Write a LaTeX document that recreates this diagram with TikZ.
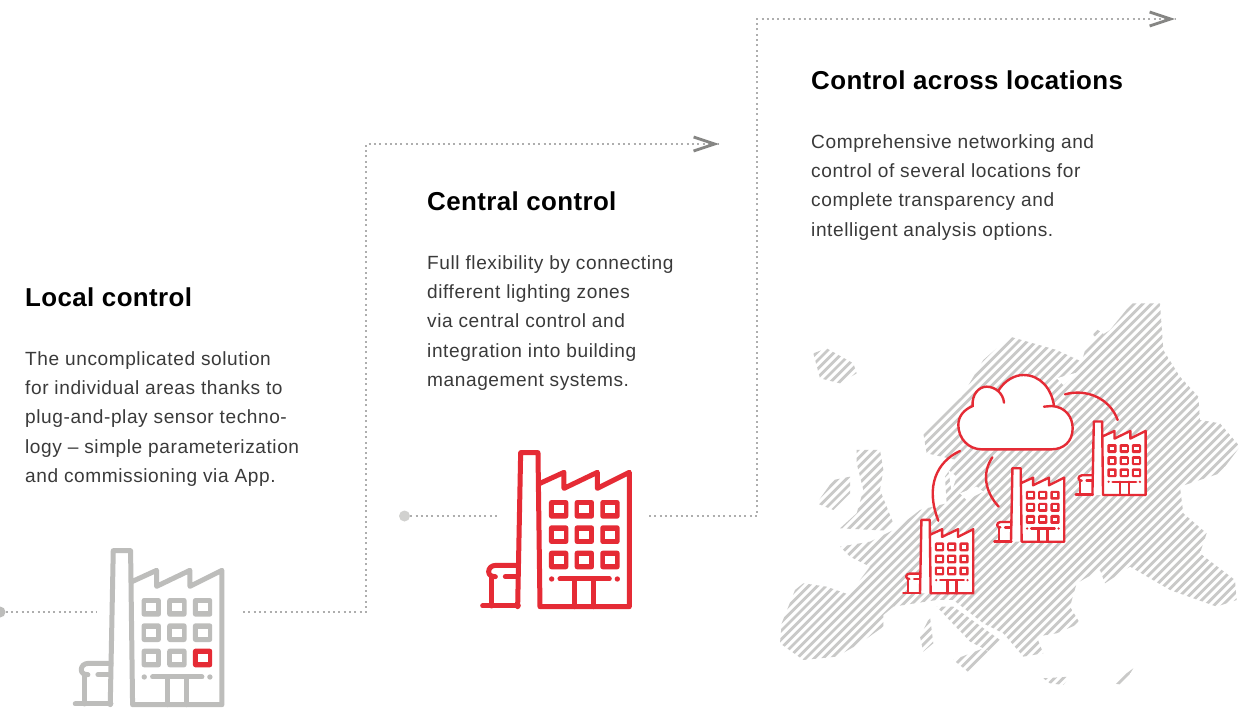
\documentclass[tikz,border=0pt]{standalone}
\usepackage{fontspec}
\usetikzlibrary{arrows.meta}
\setmainfont{Liberation Sans}
\newfontfamily\headf[LetterSpace=1.5]{Liberation Sans}
\newfontfamily\bodyf[LetterSpace=3]{Liberation Sans}
\definecolor{fred}{HTML}{E52B35}
\definecolor{fgrey}{HTML}{BDBDBB}
\definecolor{dotgrey}{HTML}{AEAEAE}
\definecolor{tipgrey}{HTML}{868684}
\definecolor{hatchgrey}{HTML}{C9C9C8}
\definecolor{bodytext}{HTML}{3A3A3A}
\tikzset{
  dotline/.style={draw=dotgrey,line width=2.4pt,dash pattern=on 2pt off 3.3pt},
  endtip/.style={-{Straight Barb[length=21pt,width=14pt,line width=2.8pt,color=tipgrey]},draw=tipgrey,line width=0.5pt},
  startdot/.style={circle,fill=#1,inner sep=0pt,minimum size=11pt},
  headtext/.style={anchor=base west,inner sep=0pt,font=\headf\bfseries\fontsize{25.9}{29}\selectfont,text=black},
  bodytxt/.style={anchor=north west,inner sep=0pt,align=left,text=bodytext,font=\bodyf\fontsize{19.1}{29.3}\selectfont},
  arcline/.style={draw=fred,line width=2.4pt,line cap=round}
}
% #1 x, #2 y, #3 scale, #4 colour, #5 lower right window colour
\newcommand{\factoryicon}[5]{%
\begin{scope}[shift={(#1,#2)},x=#3*0.3333pt,y=-#3*0.3333pt,line width=#3*5pt,draw=#4,line cap=round,line join=round]
  \fill[white] (383,500) -- (392,38) -- (444,38) -- (450,130) -- (522,97) -- (522,145) -- (622,97) -- (622,145) -- (718,97) -- (718,500) -- cycle;
  \fill[white] (306,498) -- (306,410) -- (296,395) -- (315,376) -- (385,376) -- (385,498) -- cycle;
  \draw (383,500) -- (392,38) -- (444,38) -- (450,500) -- (718,500) -- (718,97) -- (622,145) -- (622,97) -- (522,145) -- (522,97) -- (450,130);
  \draw (278,498) -- (385,498);
  \draw (306,498) -- (306,410);
  \draw (385,376) -- (318,376) .. controls (304,376) and (296,385) .. (296,395) .. controls (296,405) and (304,410) .. (316,410);
  \draw (346,410) -- (383,410);
  \foreach \cx/\cy in {506/208,583/208,660/208,506/284,583/284,660/284,506/360,583/360} {
    \fill[#4,rounded corners=#3*2.5pt] (\cx-29,\cy-28) rectangle (\cx+29,\cy+28);
    \fill[white] (\cx-15,\cy-12) rectangle (\cx+15,\cy+12);
  }
  \fill[#5,rounded corners=#3*2.5pt] (660-29,360-28) rectangle (660+29,360+28);
  \fill[white] (660-15,360-12) rectangle (660+15,360+12);
  \draw (510,417) -- (658,417);
  \fill[#4] (485,417) circle (8);
  \fill[#4] (682,417) circle (8);
  \draw (555,417) -- (555,500);
  \draw (612,417) -- (612,500);
\end{scope}}
\begin{document}
\begin{tikzpicture}[x=1pt,y=-1pt]
\useasboundingbox (0,0) rectangle (1241,707);
\fill[white] (0,0) rectangle (1241,707);

% --- Map of Europe
\begin{scope}[shift={(770,290)},x=0.3333pt,y=-0.3333pt]
\begin{scope}
\clip
 % mainland with Scandinavia
 (30,1060) -- (35,1000) -- (75,900) -- (100,880) -- (170,890) -- (240,915) -- (270,870) -- (300,830) -- (240,800) -- (210,770) -- (300,755) -- (380,715) -- (450,660) -- (530,640) -- (525,560) -- (560,510) -- (470,490) -- (460,430) -- (575,320) -- (640,210) -- (720,140) -- (860,180) -- (935,215) -- (950,165) -- (1020,120) -- (1085,40) -- (1170,40) -- (1180,180) -- (1230,260) -- (1285,320) -- (1290,390) -- (1350,400) -- (1410,470) -- (1350,550) -- (1230,590) -- (1240,670) -- (1310,730) -- (1290,790) -- (1395,870) -- (1400,930) -- (1340,950) -- (1200,900) -- (1080,830) -- (1005,880) -- (990,840) -- (920,880) -- (900,950) -- (930,1000) -- (860,1030) -- (800,1040) -- (820,1090) -- (760,1100) -- (700,1030) -- (640,1000) -- (550,930) -- (500,930) -- (370,950) -- (340,975) -- (340,1010) -- (270,1060) -- (200,1100) -- (100,1110) -- cycle
 % Iceland
 (130,190) -- (170,175) -- (250,220) -- (260,250) -- (210,280) -- (150,265) -- cycle
 % Great Britain
 (260,480) -- (330,480) -- (340,540) -- (330,600) -- (370,700) -- (350,722) -- (210,715) -- (260,670) -- (280,600) -- (260,520) -- cycle
 % Ireland
 (140,640) -- (190,570) -- (240,560) -- (240,610) -- (190,660) -- cycle
 % Italy
 (500,950) -- (550,950) -- (690,1050) -- (660,1085) -- (600,1055) -- cycle
 % Sardinia and Corsica
 (450,1040) -- (480,980) -- (490,1060) -- (460,1085) -- cycle
 % Sicily
 (550,1110) -- (640,1075) -- (660,1090) -- (600,1150) -- cycle
 % Greek islands
 (820,1165) -- (900,1160) -- (880,1185) -- (840,1180) -- cycle
 (1030,1180) -- (1090,1135) -- (1060,1185) -- cycle
 % Baltic islands
 (975,115) -- (1000,130) -- (985,150) -- (970,135) -- cycle;
\foreach \i in {-1000,-974,...,1800}
  \draw[hatchgrey,line width=2.8pt] (\i,1250) -- (\i+1260,-10);
\end{scope}
% seas cut out of the land
\fill[white] (860,265) -- (930,245) -- (880,285) -- cycle;
\fill[white] (535,540) -- (560,560) -- (545,605) -- cycle;
\fill[white] (570,610) -- (620,590) -- (640,605) -- (590,630) -- cycle;
\end{scope}

% --- Cloud and links
\begin{scope}[shift={(880,360)},x=0.3333pt,y=-0.3333pt]
  \fill[white] (515,138) .. controls (555,140) and (578,170) .. (578,205) .. controls (578,245) and (550,268) .. (515,268) -- (305,268) .. controls (265,268) and (235,235) .. (235,195) .. controls (235,170) and (250,150) .. (278,138) .. controls (275,105) and (295,80) .. (320,80) .. controls (335,80) and (350,88) .. (355,92) .. controls (375,60) and (405,45) .. (430,45) .. controls (480,45) and (515,85) .. (522,138) -- cycle;
  \draw[arcline] (492,140) -- (515,138) .. controls (555,140) and (578,170) .. (578,205) .. controls (578,245) and (550,268) .. (515,268) -- (305,268) .. controls (265,268) and (235,235) .. (235,195) .. controls (235,170) and (250,150) .. (278,138) .. controls (275,105) and (295,80) .. (320,80) .. controls (345,80) and (370,100) .. (372,128);
  \draw[arcline] (355,92) .. controls (375,60) and (405,45) .. (430,45) .. controls (480,45) and (515,85) .. (522,138);
  \draw[arcline] (240,273) .. controls (170,305) and (135,380) .. (175,482);
  \draw[arcline] (337,292) .. controls (305,340) and (315,395) .. (356,440);
  \draw[arcline] (555,103) .. controls (620,85) and (690,115) .. (713,180);
\end{scope}

% --- Factories
\factoryicon{-17.4}{538}{1}{fgrey}{fred}
\factoryicon{390}{440}{1}{fred}{fred}
\factoryicon{1031.5}{415.5}{0.477}{fred}{fred}
\factoryicon{950.1}{462.2}{0.477}{fred}{fred}
\factoryicon{859.1}{513.8}{0.477}{fred}{fred}

% --- Dotted connectors
\node[startdot=fgrey] (s1) at (0,612) {};
\coordinate (s1e) at (96,612);
\coordinate (r1) at (243,612);
\coordinate (c1) at (366,612);
\coordinate (c2) at (366,144);
\coordinate (e1) at (719,144);
\coordinate (e1b) at (717,144);
\node[startdot=fgrey!70] (s2) at (404.5,516) {};
\coordinate (s2e) at (500,516);
\coordinate (r2) at (649,516);
\coordinate (c3) at (757,516);
\coordinate (c4) at (757,19);
\coordinate (e2) at (1175,19);
\coordinate (e2b) at (1173,19);
\draw[dotline] (s1) -- (s1e);
\draw[dotline] (r1) -- (c1) -- (c2) -- (e1);
\draw[endtip] (e1b) -- (e1);
\draw[dotline] (s2) -- (s2e);
\draw[dotline] (r2) -- (c3) -- (c4) -- (e2);
\draw[endtip] (e2b) -- (e2);

% --- Text
\node[headtext] (h1) at (25,306) {Local control};
\node[headtext] (h2) at (427,210) {Central control};
\node[headtext] (h3) at (811,89) {Control across locations};
\node[bodytxt] (b1) at (25,351.3) {The uncomplicated solution\\for individual areas thanks to\\plug-and-play sensor techno-\\logy – simple parameterization\\and commissioning via App.};
\node[bodytxt] (b2) at (427,255.3) {Full flexibility by connecting\\different lighting zones\\via central control and\\integration into building\\management systems.};
\node[bodytxt] (b3) at (811,134.3) {Comprehensive networking and\\control of several locations for\\complete transparency and\\intelligent analysis options.};
\end{tikzpicture}
\end{document}
